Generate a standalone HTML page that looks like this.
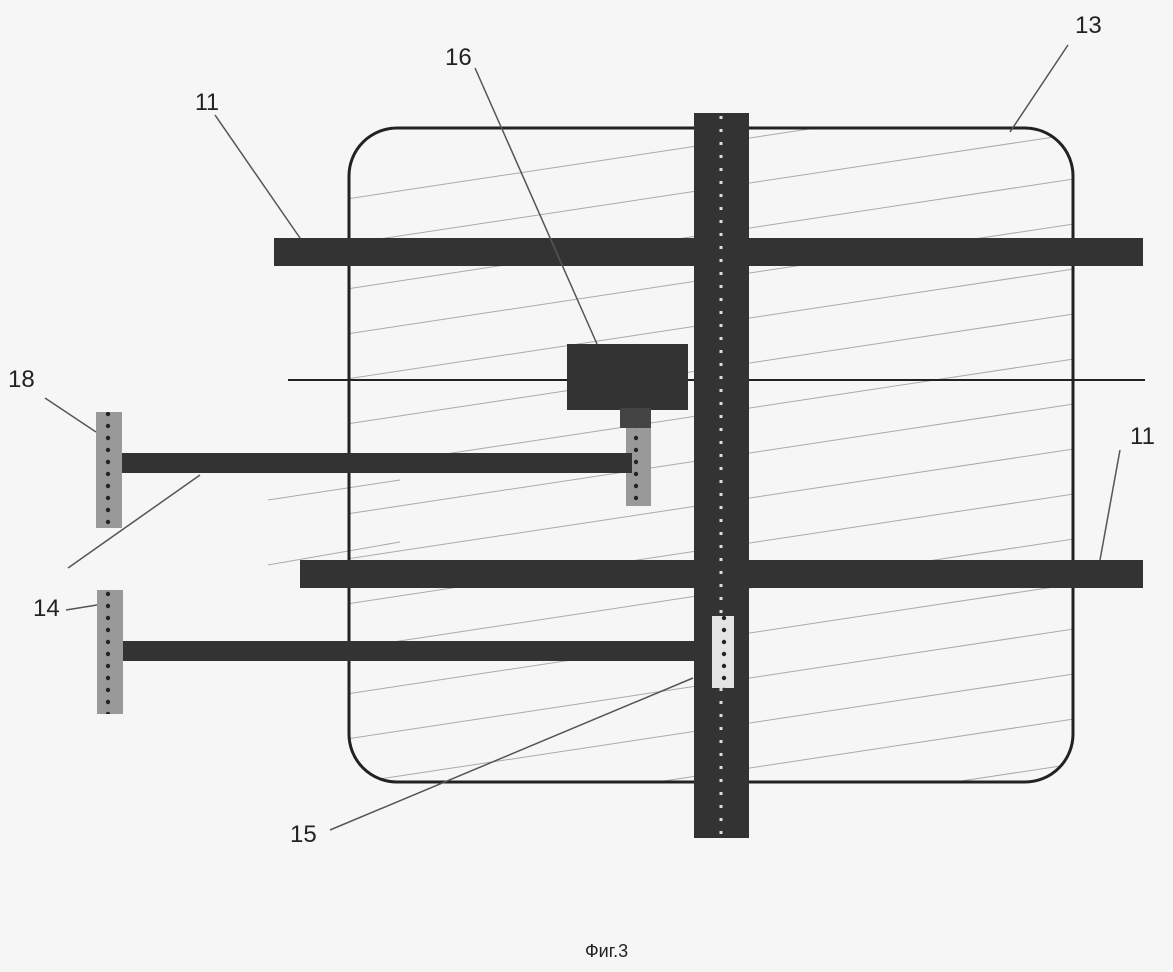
<!DOCTYPE html>
<html><head><meta charset="utf-8"><style>
html,body{margin:0;padding:0;background:#f6f6f6;}
svg{display:block;}
text{font-family:"Liberation Sans",sans-serif;fill:#222;}
</style></head><body>
<svg width="1173" height="972" viewBox="0 0 1173 972" xmlns="http://www.w3.org/2000/svg">
<defs>
<clipPath id="c"><rect x="349" y="128" width="724" height="654" rx="48"/></clipPath>
<pattern id="d" x="0" y="0" width="8" height="12" patternUnits="userSpaceOnUse"><circle cx="4" cy="6" r="2.2" fill="#222"/></pattern>
</defs>
<rect width="1173" height="972" fill="#f6f6f6"/>
<g clip-path="url(#c)" stroke="#aaa" stroke-width="1" fill="none">
<line x1="340" y1="200" x2="1100" y2="85"/>
<line x1="340" y1="245" x2="1100" y2="130"/>
<line x1="340" y1="290" x2="1100" y2="175"/>
<line x1="340" y1="335" x2="1100" y2="220"/>
<line x1="340" y1="380" x2="1100" y2="265"/>
<line x1="340" y1="425" x2="1100" y2="310"/>
<line x1="340" y1="470" x2="1100" y2="355"/>
<line x1="340" y1="515" x2="1100" y2="400"/>
<line x1="340" y1="560" x2="1100" y2="445"/>
<line x1="340" y1="605" x2="1100" y2="490"/>
<line x1="340" y1="650" x2="1100" y2="535"/>
<line x1="340" y1="695" x2="1100" y2="580"/>
<line x1="340" y1="740" x2="1100" y2="625"/>
<line x1="340" y1="785" x2="1100" y2="670"/>
<line x1="340" y1="830" x2="1100" y2="715"/>
<line x1="340" y1="875" x2="1100" y2="760"/>
</g>
<g stroke="#aaa" stroke-width="1">
<line x1="268" y1="500" x2="400" y2="480"/>
<line x1="268" y1="565" x2="400" y2="542"/>
</g>
<rect x="349" y="128" width="724" height="654" rx="48" fill="none" stroke="#222" stroke-width="3"/>
<line x1="288" y1="380" x2="1145" y2="380" stroke="#222" stroke-width="2"/>
<rect x="274" y="238" width="869" height="28" fill="#333"/>
<rect x="300" y="560" width="843" height="28" fill="#333"/>
<rect x="694" y="113" width="55" height="725" fill="#333"/>
<line x1="721" y1="116" x2="721" y2="838" stroke="#ddd" stroke-width="3" stroke-dasharray="3 10"/>
<rect x="567" y="344" width="121" height="66" fill="#333"/>
<rect x="620" y="408" width="31" height="20" fill="#444"/>
<rect x="626" y="428" width="25" height="78" fill="#999"/>
<rect x="634" y="428" width="8" height="78" fill="url(#d)"/>
<rect x="120" y="453" width="512" height="20" fill="#333"/>
<rect x="96" y="412" width="26" height="116" fill="#999"/>
<rect x="105" y="412" width="8" height="116" fill="url(#d)"/>
<rect x="120" y="641" width="580" height="20" fill="#333"/>
<rect x="97" y="590" width="26" height="124" fill="#999"/>
<rect x="106" y="590" width="8" height="124" fill="url(#d)"/>
<rect x="712" y="616" width="22" height="72" fill="#e4e4e4"/>
<rect x="719" y="616" width="8" height="72" fill="url(#d)"/>
<g stroke="#555" stroke-width="1.5">
<line x1="215" y1="115" x2="300" y2="238"/>
<line x1="475" y1="68" x2="597" y2="344"/>
<line x1="1068" y1="45" x2="1010" y2="132"/>
<line x1="45" y1="398" x2="96" y2="432"/>
<line x1="66" y1="610" x2="97" y2="605"/>
<line x1="68" y1="568" x2="200" y2="475"/>
<line x1="1120" y1="450" x2="1100" y2="560"/>
<line x1="330" y1="830" x2="693" y2="678"/>
</g>
<g font-size="24">
<text x="195" y="110" textLength="24" lengthAdjust="spacingAndGlyphs">11</text>
<text x="445" y="65">16</text>
<text x="1075" y="33">13</text>
<text x="8" y="387">18</text>
<text x="33" y="616">14</text>
<text x="1130" y="444">11</text>
<text x="290" y="842">15</text>
<text x="585" y="957" font-size="18">Фиг.3</text>
</g>
</svg>
</body></html>
